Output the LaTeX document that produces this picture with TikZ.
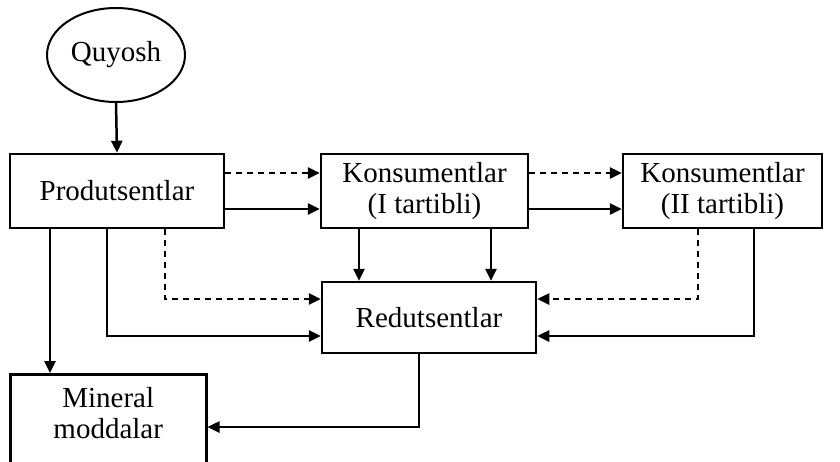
\documentclass[tikz,border=0pt]{standalone}
\usepackage{fontspec}
\setmainfont{Liberation Serif}
\usetikzlibrary{arrows.meta,shapes.geometric}
\begin{document}
\begin{tikzpicture}[x=1pt,y=-1pt,
  every node/.style={font=\fontsize{29}{31.5}\selectfont, inner sep=0pt, align=center},
  box/.style={draw, line width=2.5pt, rectangle},
  conn/.style={line width=2.5pt, -{Triangle[length=12pt,width=11pt]}},
  dconn/.style={conn, dash pattern=on 6pt off 5pt}]
\clip (0,0) rectangle (840,461);
\useasboundingbox (0,0) rectangle (840,461);
\node (q) [draw, line width=2pt, ellipse, minimum width=138, minimum height=94] at (116,55) {Quyosh};
\node (p) [box, minimum width=214, minimum height=74] at (117,191) {Produtsentlar};
\node (k1) [box, minimum width=207, minimum height=74] at (424.5,191) {Konsumentlar\\(I tartibli)};
\node (k2) [box, minimum width=199, minimum height=74] at (722.5,191) {Konsumentlar\\(II tartibli)};
\node (r) [box, minimum width=214, minimum height=71] at (429,317.5) {Redutsentlar};
\node (m) [box, minimum width=196, minimum height=90, anchor=north west] at (9,373) {};
\node (mt) at ([yshift=6pt]m.center) {Mineral\\moddalar};
\draw[conn] (q.south) -- (p.north);
\draw[dconn] (p.east |- 0,173) -- (k1.west |- 0,173);
\draw[conn] (p.east |- 0,209) -- (k1.west |- 0,209);
\draw[dconn] (k1.east |- 0,173) -- (k2.west |- 0,173);
\draw[conn] (k1.east |- 0,209) -- (k2.west |- 0,209);
\draw[conn] (p.south -| 50,0) -- (m.north -| 50,0);
\draw[conn] (p.south -| 107,0) |- (r.west |- 0,336);
\draw[dconn] (p.south -| 165,0) |- (r.west |- 0,299);
\draw[conn] (k1.south -| 359,0) -- (r.north -| 359,0);
\draw[conn] (k1.south -| 491,0) -- (r.north -| 491,0);
\draw[dconn] (k2.south -| 698,0) |- (r.east |- 0,299);
\draw[conn] (k2.south -| 754,0) |- (r.east |- 0,336);
\draw[conn] (r.south -| 419,0) |- (m.east |- 0,427);
\end{tikzpicture}
\end{document}
